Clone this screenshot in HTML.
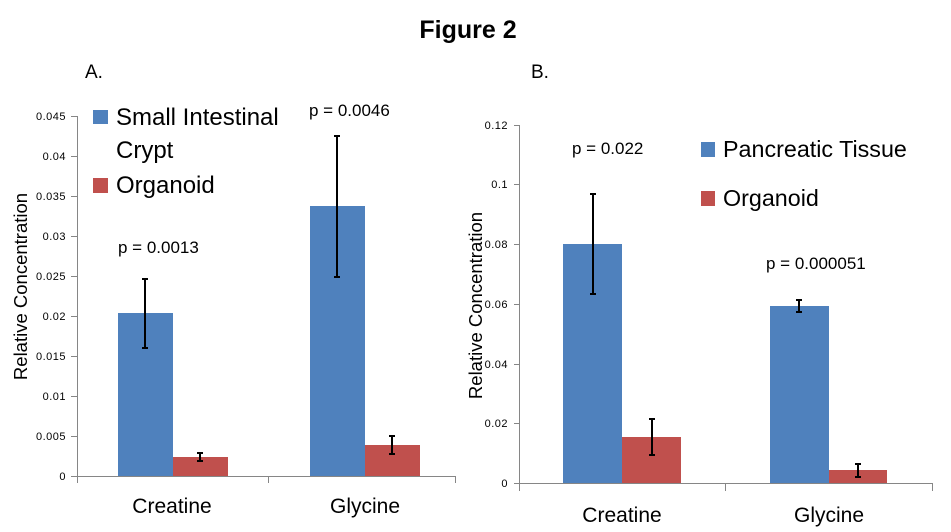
<!DOCTYPE html>
<html>
<head>
<meta charset="utf-8">
<style>
html,body{margin:0;padding:0;background:#fff;}
svg{display:block;}
text{font-family:"Liberation Sans",sans-serif;fill:#000;}
.tk{font-size:11px;letter-spacing:0.5px;text-anchor:end;}
.ax{stroke:#868686;stroke-width:1;fill:none;shape-rendering:crispEdges;}
.eb{stroke:#000;stroke-width:2;fill:none;}
.leg{font-size:24px;}
.legb{font-size:23.3px;}
.pv{font-size:17px;}
.cat{font-size:21px;text-anchor:middle;}
.yl{font-size:18.5px;text-anchor:middle;}
</style>
</head>
<body>
<svg width="951" height="532" viewBox="0 0 951 532" xmlns="http://www.w3.org/2000/svg">
<rect width="951" height="532" fill="#fff"/>
<text x="468" y="38" style="font-size:25px;font-weight:bold;text-anchor:middle;">Figure 2</text>
<text x="85" y="78" style="font-size:19px;">A.</text>
<text x="531" y="78" style="font-size:19px;">B.</text>

<!-- Chart A -->
<g>
<line class="ax" x1="77.5" y1="116" x2="77.5" y2="483"/>
<line class="ax" x1="77" y1="476.5" x2="455" y2="476.5"/>
<line class="ax" x1="268.5" y1="476" x2="268.5" y2="483"/>
<line class="ax" x1="455.5" y1="476" x2="455.5" y2="483"/>
<g class="ax">
<line x1="71" y1="476.5" x2="77" y2="476.5"/>
<line x1="71" y1="436.5" x2="77" y2="436.5"/>
<line x1="71" y1="396.5" x2="77" y2="396.5"/>
<line x1="71" y1="356.5" x2="77" y2="356.5"/>
<line x1="71" y1="316.5" x2="77" y2="316.5"/>
<line x1="71" y1="276.5" x2="77" y2="276.5"/>
<line x1="71" y1="236.5" x2="77" y2="236.5"/>
<line x1="71" y1="196.5" x2="77" y2="196.5"/>
<line x1="71" y1="156.5" x2="77" y2="156.5"/>
<line x1="71" y1="116.5" x2="77" y2="116.5"/>
</g>
<text class="tk" x="66" y="480">0</text>
<text class="tk" x="66" y="440">0.005</text>
<text class="tk" x="66" y="400">0.01</text>
<text class="tk" x="66" y="360">0.015</text>
<text class="tk" x="66" y="320">0.02</text>
<text class="tk" x="66" y="280">0.025</text>
<text class="tk" x="66" y="240">0.03</text>
<text class="tk" x="66" y="200">0.035</text>
<text class="tk" x="66" y="160">0.04</text>
<text class="tk" x="66" y="120">0.045</text>

<rect x="118" y="313" width="55" height="163" fill="#4F81BD"/>
<rect x="173" y="457" width="55" height="19" fill="#C0504D"/>
<rect x="310" y="206" width="55" height="270" fill="#4F81BD"/>
<rect x="365" y="445" width="55" height="31" fill="#C0504D"/>

<g class="eb">
<path d="M145 279V348M142 279H148M142 348H148"/>
<path d="M200 453V461M197 453H203M197 461H203"/>
<path d="M337 136V277M334 136H340M334 277H340"/>
<path d="M392 436V454M389 436H395M389 454H395"/>
</g>

<text class="pv" x="118" y="253">p = 0.0013</text>
<text class="pv" x="309" y="116">p = 0.0046</text>

<rect x="93" y="110" width="15" height="14" fill="#4F81BD"/>
<text class="leg" x="116" y="125">Small Intestinal</text>
<text class="leg" x="116" y="158">Crypt</text>
<rect x="93" y="178" width="15" height="15" fill="#C0504D"/>
<text class="leg" x="116" y="193">Organoid</text>

<text class="cat" x="172" y="513">Creatine</text>
<text class="cat" x="365" y="513">Glycine</text>
<text class="yl" transform="translate(27,286.5) rotate(-90)">Relative Concentration</text>
</g>

<!-- Chart B -->
<g>
<line class="ax" x1="519.5" y1="125" x2="519.5" y2="491"/>
<line class="ax" x1="519" y1="483.5" x2="932" y2="483.5"/>
<line class="ax" x1="725.5" y1="483" x2="725.5" y2="491"/>
<line class="ax" x1="932.5" y1="483" x2="932.5" y2="491"/>
<g class="ax">
<line x1="514" y1="483.5" x2="519" y2="483.5"/>
<line x1="514" y1="423.5" x2="519" y2="423.5"/>
<line x1="514" y1="364.5" x2="519" y2="364.5"/>
<line x1="514" y1="304.5" x2="519" y2="304.5"/>
<line x1="514" y1="244.5" x2="519" y2="244.5"/>
<line x1="514" y1="184.5" x2="519" y2="184.5"/>
<line x1="514" y1="125.5" x2="519" y2="125.5"/>
</g>
<text class="tk" x="508" y="487">0</text>
<text class="tk" x="508" y="427">0.02</text>
<text class="tk" x="508" y="368">0.04</text>
<text class="tk" x="508" y="308">0.06</text>
<text class="tk" x="508" y="248">0.08</text>
<text class="tk" x="508" y="188">0.1</text>
<text class="tk" x="508" y="129">0.12</text>

<rect x="563" y="244" width="59" height="239" fill="#4F81BD"/>
<rect x="622" y="437" width="59" height="46" fill="#C0504D"/>
<rect x="770" y="306" width="59" height="177" fill="#4F81BD"/>
<rect x="829" y="470" width="58" height="13" fill="#C0504D"/>

<g class="eb">
<path d="M593 194V294M590 194H596M590 294H596"/>
<path d="M652 419V455M649 419H655M649 455H655"/>
<path d="M799 300V312M796 300H802M796 312H802"/>
<path d="M858 464V477M855 464H861M855 477H861"/>
</g>

<text class="pv" x="572" y="154">p = 0.022</text>
<text class="pv" x="766" y="269">p = 0.000051</text>

<rect x="701" y="142" width="14" height="15" fill="#4F81BD"/>
<text class="legb" x="723" y="157">Pancreatic Tissue</text>
<rect x="701" y="191" width="14" height="15" fill="#C0504D"/>
<text class="legb" x="723" y="206">Organoid</text>

<text class="cat" x="622" y="522">Creatine</text>
<text class="cat" x="829" y="522">Glycine</text>
<text class="yl" transform="translate(482,305.5) rotate(-90)">Relative Concentration</text>
</g>
</svg>
</body>
</html>
